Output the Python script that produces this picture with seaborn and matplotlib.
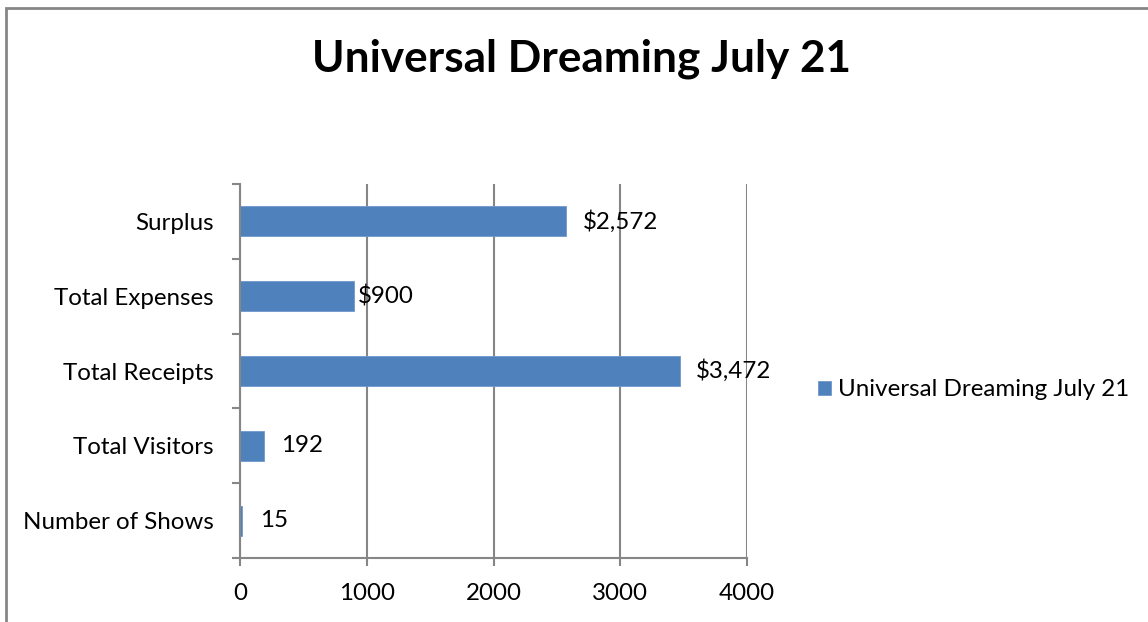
import matplotlib
matplotlib.use("Agg")
import matplotlib.pyplot as plt
from matplotlib.patches import Rectangle
import seaborn as sns
import pandas as pd

# Chart data
categories = ["Surplus", "Total Expenses", "Total Receipts", "Total Visitors", "Number of Shows"]
values = [2572, 900, 3472, 192, 15]
value_labels = ["$2,572", "$900", "$3,472", "192", "15"]
series_name = "Universal Dreaming July 21"
x_ticks = [0, 1000, 2000, 3000, 4000]

BAR = "#4F81BD"
GRID = "#868686"
FS = 17.4

sns.set_theme(style="white")
plt.rcParams["font.family"] = ["Lato", "DejaVu Sans"]
plt.rcParams["text.color"] = "black"

df = pd.DataFrame({"category": categories, "value": values})

W, H, DPI = 1148, 622, 100
PX = 72 / DPI  # points per pixel
fig = plt.figure(figsize=(W / DPI, H / DPI), dpi=DPI)
ax = fig.add_axes([240 / W, 1 - 558 / H, (747 - 240) / W, (558 - 184) / H])

sns.barplot(data=df, x="value", y="category", order=categories, color=BAR,
            width=0.4, saturation=1, label=series_name, ax=ax,
            edgecolor="#6f98cc", linewidth=0.6)

ax.set_xlim(0, 4000)
ax.set_ylim(len(categories) - 0.5, -0.5)
ax.set_xticks(x_ticks)
ax.set_xticklabels([str(t) for t in x_ticks])
ax.set_xlabel("")
ax.set_ylabel("")

# Vertical gridlines
ax.grid(axis="x", color=GRID, linewidth=1.5)
ax.grid(axis="y", visible=False)
ax.set_axisbelow(True)

for side in ["top", "right"]:
    ax.spines[side].set_visible(False)
for side in ["left", "bottom"]:
    ax.spines[side].set_color(GRID)
    ax.spines[side].set_linewidth(1.5)

# Category boundaries carry the tick marks on the value-less axis
ax.set_yticks([i - 0.5 for i in range(len(categories) + 1)], minor=True)
ax.tick_params(axis="y", which="major", length=0, pad=26 * PX, labelsize=FS, labelcolor="black")
ax.tick_params(axis="y", which="minor", length=6, width=1.5, color=GRID, direction="out", left=True)
ax.tick_params(axis="x", which="major", length=6, width=1.5, color=GRID, direction="out",
               bottom=True, pad=12, labelsize=FS, labelcolor="black")

# Value labels outside the bar ends (offsets in pixels)
pads = [17, 4, 16, 17, 18]
for i, (v, lab) in enumerate(zip(values, value_labels)):
    ax.annotate(lab, xy=(v, i), xytext=(pads[i] * PX, 0), textcoords="offset points",
                ha="left", va="center", fontsize=FS, color="black")

fig.text(581 / W, 1 - 59 / H, series_name, ha="center", va="center",
         fontsize=31.8, fontweight="bold", color="black")

leg = ax.legend(loc="center left", bbox_to_anchor=(818 / W, 1 - 390 / H),
                bbox_transform=fig.transFigure, frameon=False, fontsize=FS,
                handlelength=0.52, handleheight=0.52, handletextpad=0.3,
                borderpad=0, borderaxespad=0, labelcolor="black")

# Chart frame
fig.patches.append(Rectangle((5.5 / W, -0.2), 1.5, 1.2 - 7.5 / H, transform=fig.transFigure,
                             fill=False, edgecolor=GRID, linewidth=2, zorder=0))

fig.savefig("out.png", dpi=DPI)
